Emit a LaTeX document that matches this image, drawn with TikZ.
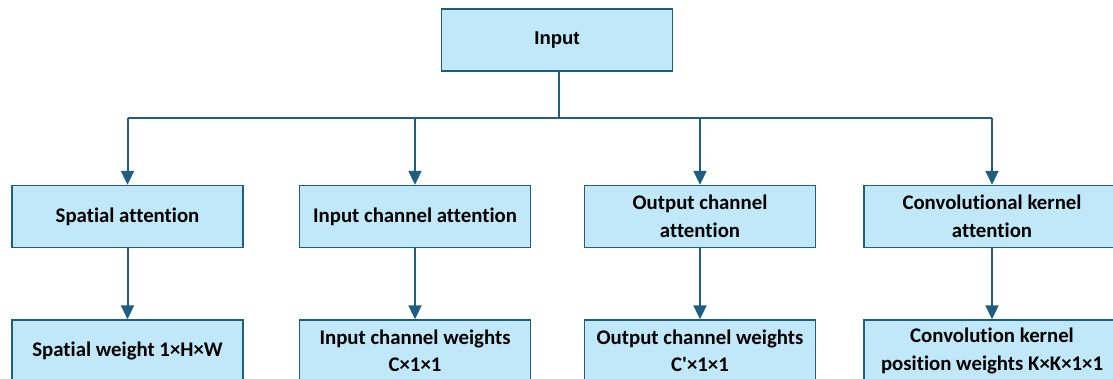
\documentclass[tikz,border=0pt]{standalone}
\usepackage{fontspec}
\newfontfamily\boxfont{Carlito}[Ligatures=NoCommon]
\newfontfamily\headfont{Liberation Sans}
\usetikzlibrary{arrows.meta}
\definecolor{boxfill}{RGB}{192,232,248}
\definecolor{edgeblue}{RGB}{31,94,130}
\tikzset{
  blk/.style={draw=edgeblue, fill=boxfill, line width=1.4pt,
    minimum width=231pt, minimum height=62pt, inner sep=0pt,
    align=center, font=\boxfont\bfseries\fontsize{20.8}{27.5}\selectfont},
  wide/.style={minimum width=256pt},
  link/.style={draw=edgeblue, line width=2pt},
  arr/.style={link, -{Triangle[width=13pt,length=14pt]}}
}
\begin{document}
\begin{tikzpicture}[x=1pt,y=-1pt]
\useasboundingbox (0,0) rectangle (1113,378);
\clip (0,0) rectangle (1113,378);
% top input box
\node[blk, font=\headfont\bfseries\fontsize{18.5}{22}\selectfont] (in) at (557,40) {Input};
% attention branches
\node[blk] (a1) at (127.5,216.5) {Spatial attention};
\node[blk] (a2) at (415,216.5) {Input channel attention};
\node[blk] (a3) at (700,216.5) {Output channel\\attention};
\node[blk, wide] (a4) at (992,216.5) {Convolutional kernel\\attention};
% resulting weights
\node[blk] (w1) at (127.5,351) {Spatial weight 1×H×W};
\node[blk] (w2) at (415,351) {Input channel weights\\C×1×1};
\node[blk] (w3) at (700,351) {Output channel weights\\C'×1×1};
\node[blk, wide] (w4) at (992,351) {Convolution kernel\\position weights K×K×1×1};
% fan-out from the input
\coordinate (hub) at (559,118);
\draw[link] (in.south -| hub) -- (hub);
\draw[link] (a1.north |- hub) -- (a4.north |- hub);
\foreach \n in {a1,a2,a3,a4}
  \draw[arr] (\n.north |- hub) -- (\n.north);
% attention to weights
\foreach \i in {1,2,3,4}
  \draw[arr] (a\i.south) -- (w\i.north);
\end{tikzpicture}
\end{document}
